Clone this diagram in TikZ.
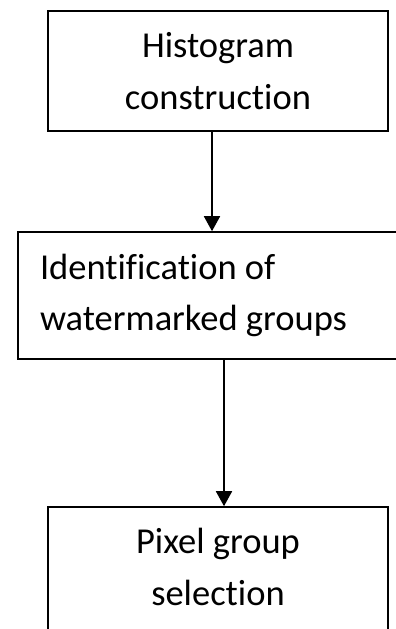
\documentclass[tikz,border=0pt]{standalone}
\usepackage{fontspec}
\setmainfont{Carlito}[Ligatures=NoCommon]
\usetikzlibrary{arrows.meta}
\tikzset{
  box/.style={draw, line width=1.6pt, inner sep=0pt, font=\fontsize{36.5}{52}\selectfont, align=center},
  arr/.style={line width=1.8pt, -{Triangle[length=15pt, width=16pt]}}
}
\begin{document}
\begin{tikzpicture}[x=1pt, y=-1pt]
\clip (0,0) rectangle (396,629);
\node[box, minimum height=120pt, minimum width=340pt] (hist) at (218,71) {Histogram\\construction};
\node[box, minimum height=127pt, inner xsep=22pt, text width=360pt, align=flush left, font=\fontsize{36.5}{51}\selectfont] (ident) at (220,295.5) {Identification of\\watermarked groups};
\node[box, minimum height=130pt, minimum width=340pt, text depth=10pt] (sel) at (218,572) {Pixel group\\selection};
\draw[arr] ([xshift=-6pt]hist.south) -- ([xshift=-6pt]hist.south |- ident.north);
\draw[arr] ([xshift=6pt]sel.north |- ident.south) -- ([xshift=6pt]sel.north);
\end{tikzpicture}
\end{document}
